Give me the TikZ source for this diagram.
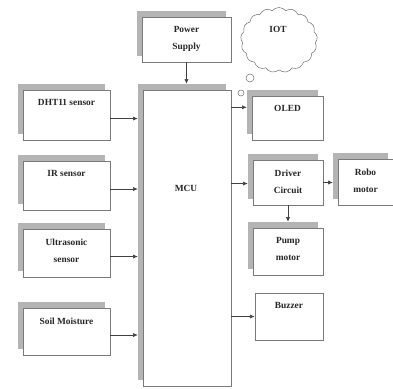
\documentclass[tikz,border=0pt]{standalone}
\usepackage{fontspec}
\setmainfont{Liberation Serif}
\usetikzlibrary{arrows.meta, positioning, calc, fit, shapes.symbols}
\definecolor{shadec}{HTML}{B4B4B4}
\definecolor{edgec}{HTML}{7A7A7A}
\tikzset{
  shadebox/.style={fill=shadec, draw=none, inner sep=0pt},
  blockbox/.style={draw=edgec, fill=white, line width=0.6pt, inner sep=0pt},
  lbl/.style={font=\fontsize{8}{14.5}\selectfont\bfseries, align=center,
              text=black!85},
  wire/.style={draw=black!75, line width=0.5pt,
               -{Latex[length=4pt, width=3.5pt]}},
}
% box with a grey shadow up and to the left
\newcommand{\blockunit}[4]{%
  \node[shadebox, fit={($#2+(-5,-6)$) ($#3+(-5,-6)$)}] (#1s) {};
  \node[blockbox, fit={#2 #3},
        label={[lbl, anchor=north, yshift=-5pt]north:{#4}}] (#1) {};
}
\newcommand{\plainblock}[4]{%
  \node[blockbox, fit={#2 #3},
        label={[lbl, anchor=north, yshift=-5pt]north:{#4}}] (#1) {};
}

\begin{document}
\begin{tikzpicture}[x=0.03cm, y=-0.03cm]
  \useasboundingbox (0,0) rectangle (393,388);
  % sensors
  \blockunit{dht}{(23,90)}{(110,140)}{DHT11 sensor}
  \blockunit{ir}{(23,161)}{(110,210)}{IR sensor}
  \blockunit{ultra}{(23,229)}{(110,277)}{Ultrasonic\\sensor}
  \blockunit{soil}{(23,308)}{(110,355)}{Soil Moisture}
  % controller and supply
  \blockunit{psu}{(142,17)}{(231,62)}{Power\\Supply}
  \blockunit{mcu}{(143,90)}{(231,386)}{}
  \node[lbl] (mcut) at (186,188) {MCU};
  % outputs
  \blockunit{oled}{(252,96)}{(323,140)}{OLED}
  \blockunit{drv}{(253,160)}{(323,205)}{Driver\\Circuit}
  \blockunit{robo}{(338,159)}{(393,205)}{Robo\\motor}
  \blockunit{pump}{(253,228)}{(323,275)}{Pump\\motor}
  \plainblock{buzz}{(255,293)}{(323,340)}{Buzzer}
  % cloud
  \node[cloud, draw=black!60, cloud puffs=17, cloud puff arc=100,
        minimum width=2.3cm, minimum height=1.95cm] (iot) at (279,40) {};
  \node[lbl] (iott) at (278,29) {IOT};
  \node[circle, draw=black!60, minimum size=0.24cm, inner sep=0pt] (b1) at (250,78) {};
  \node[circle, draw=black!60, minimum size=0.18cm, inner sep=0pt] (b2) at (241,93) {};
  % entry points on the right
  \coordinate (oledin) at ([yshift=4pt]oleds.west);
  \coordinate (drvin) at ([yshift=-6pt]drvs.west);
  % connections
  \foreach \n in {dht, ir, ultra, soil}
    \draw[wire] ([yshift=-3pt]\n.east) -- ([yshift=-3pt]\n.east -| mcus.west);
  \draw[wire] (psu.south) -- (psu.south |- mcus.north);
  \draw[wire] (mcu.east |- oledin) -- (oledin);
  \draw[wire] (mcu.east |- drvin) -- (drvin);
  \draw[wire] (mcu.east |- buzz.west) -- (buzz.west);
  \draw[wire] (drv.east) -- (drv.east -| robos.west);
  \draw[wire] (drv.south) -- (drv.south |- pumps.north);
\end{tikzpicture}
\end{document}
